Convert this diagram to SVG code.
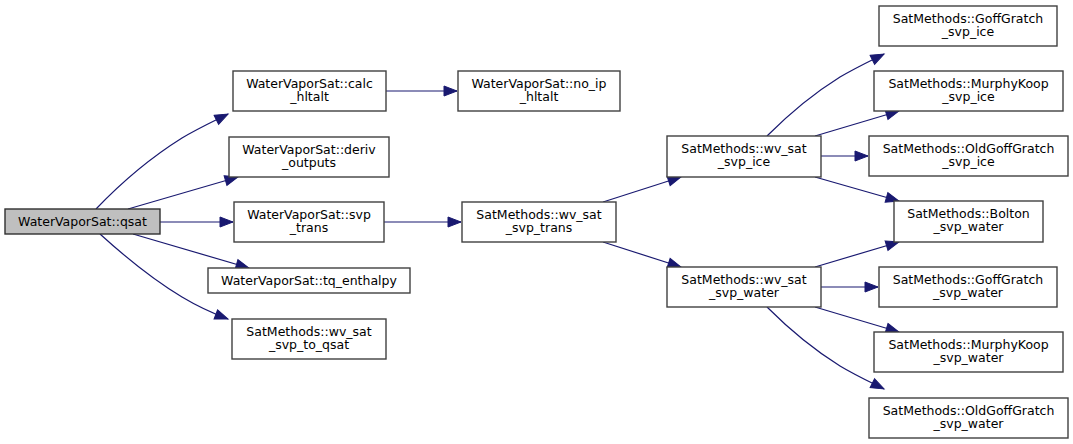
<svg xmlns="http://www.w3.org/2000/svg" width="1073" height="444" viewBox="0 0 1073 444">
<defs>
<marker id="ah" markerUnits="userSpaceOnUse" markerWidth="15" markerHeight="12" refX="13" refY="5" orient="auto" overflow="visible">
<path d="M0,0 L13,5 L0,10 Z" fill="#191970" stroke="#191970" stroke-width="1"/>
</marker>
<style>
.n rect{fill:#ffffff;stroke:#404040;stroke-width:1.4}
.root rect{fill:#bfbfbf;stroke:#303030;stroke-width:1.4}
text{font-family:"DejaVu Sans",sans-serif;font-size:12.5px;fill:#000000;text-anchor:middle}
#edges path{fill:none;stroke:#191970;stroke-width:1.2;marker-end:url(#ah)}
</style>
</defs>
<rect width="1073" height="444" fill="#ffffff"/>
<g id="edges">
<path d="M96,209 C118,186 150,158 182,138 C197,129 212,122 228,114"/>
<path d="M128,209 L238,177"/>
<path d="M160,222 L233,222"/>
<path d="M133,234 L249,268"/>
<path d="M100,234 C122,254 152,279 182,297 C197,306 212,313 228,319"/>
<path d="M386,91 L457,91"/>
<path d="M384,222 L461,222"/>
<path d="M603,202 L681,177"/>
<path d="M603,242 L681,267"/>
<path d="M767,136 C785,118 811,95 840,77 C855,68 870,61 884,54"/>
<path d="M815,136 L899,111"/>
<path d="M821,156 L868,156"/>
<path d="M815,177 L899,201"/>
<path d="M815,267 L899,242"/>
<path d="M821,287 L878,287"/>
<path d="M815,307 L899,332"/>
<path d="M767,307 C785,325 811,348 840,366 C855,375 870,382 884,389"/>
</g>
<g id="qsat" class="root"><rect x="5" y="209" width="155" height="25"/><text x="82.5" y="226">WaterVaporSat::qsat</text></g>
<g id="calc_hltalt" class="n"><rect x="233" y="71" width="153" height="40"/><text x="309.5" y="88">WaterVaporSat::calc</text><text x="309.5" y="101">_hltalt</text></g>
<g id="deriv_outputs" class="n"><rect x="229" y="137" width="160" height="40"/><text x="309" y="154">WaterVaporSat::deriv</text><text x="309" y="167">_outputs</text></g>
<g id="svp_trans" class="n"><rect x="234" y="202" width="150" height="40"/><text x="309" y="219">WaterVaporSat::svp</text><text x="309" y="232">_trans</text></g>
<g id="tq_enthalpy" class="n"><rect x="208" y="268" width="202" height="25"/><text x="309" y="285">WaterVaporSat::tq_enthalpy</text></g>
<g id="wv_sat_svp_to_qsat" class="n"><rect x="232" y="319" width="154" height="40"/><text x="309" y="336">SatMethods::wv_sat</text><text x="309" y="349">_svp_to_qsat</text></g>
<g id="no_ip_hltalt" class="n"><rect x="458" y="71" width="162" height="40"/><text x="539" y="88">WaterVaporSat::no_ip</text><text x="539" y="101">_hltalt</text></g>
<g id="wv_sat_svp_trans" class="n"><rect x="462" y="202" width="154" height="40"/><text x="539" y="219">SatMethods::wv_sat</text><text x="539" y="232">_svp_trans</text></g>
<g id="wv_sat_svp_ice" class="n"><rect x="667" y="136" width="154" height="41"/><text x="744" y="153">SatMethods::wv_sat</text><text x="744" y="166">_svp_ice</text></g>
<g id="wv_sat_svp_water" class="n"><rect x="667" y="267" width="154" height="40"/><text x="744" y="284">SatMethods::wv_sat</text><text x="744" y="297">_svp_water</text></g>
<g id="GoffGratch_svp_ice" class="n"><rect x="879" y="6" width="178" height="40"/><text x="968" y="23">SatMethods::GoffGratch</text><text x="968" y="36">_svp_ice</text></g>
<g id="MurphyKoop_svp_ice" class="n"><rect x="874" y="71" width="189" height="40"/><text x="968.5" y="88">SatMethods::MurphyKoop</text><text x="968.5" y="101">_svp_ice</text></g>
<g id="OldGoffGratch_svp_ice" class="n"><rect x="869" y="136" width="199" height="40"/><text x="968.5" y="153">SatMethods::OldGoffGratch</text><text x="968.5" y="166">_svp_ice</text></g>
<g id="Bolton_svp_water" class="n"><rect x="894" y="201" width="149" height="41"/><text x="968.5" y="218">SatMethods::Bolton</text><text x="968.5" y="231">_svp_water</text></g>
<g id="GoffGratch_svp_water" class="n"><rect x="879" y="267" width="178" height="40"/><text x="968" y="284">SatMethods::GoffGratch</text><text x="968" y="297">_svp_water</text></g>
<g id="MurphyKoop_svp_water" class="n"><rect x="874" y="332" width="189" height="40"/><text x="968.5" y="349">SatMethods::MurphyKoop</text><text x="968.5" y="362">_svp_water</text></g>
<g id="OldGoffGratch_svp_water" class="n"><rect x="869" y="398" width="199" height="40"/><text x="968.5" y="415">SatMethods::OldGoffGratch</text><text x="968.5" y="428">_svp_water</text></g>
</svg>
